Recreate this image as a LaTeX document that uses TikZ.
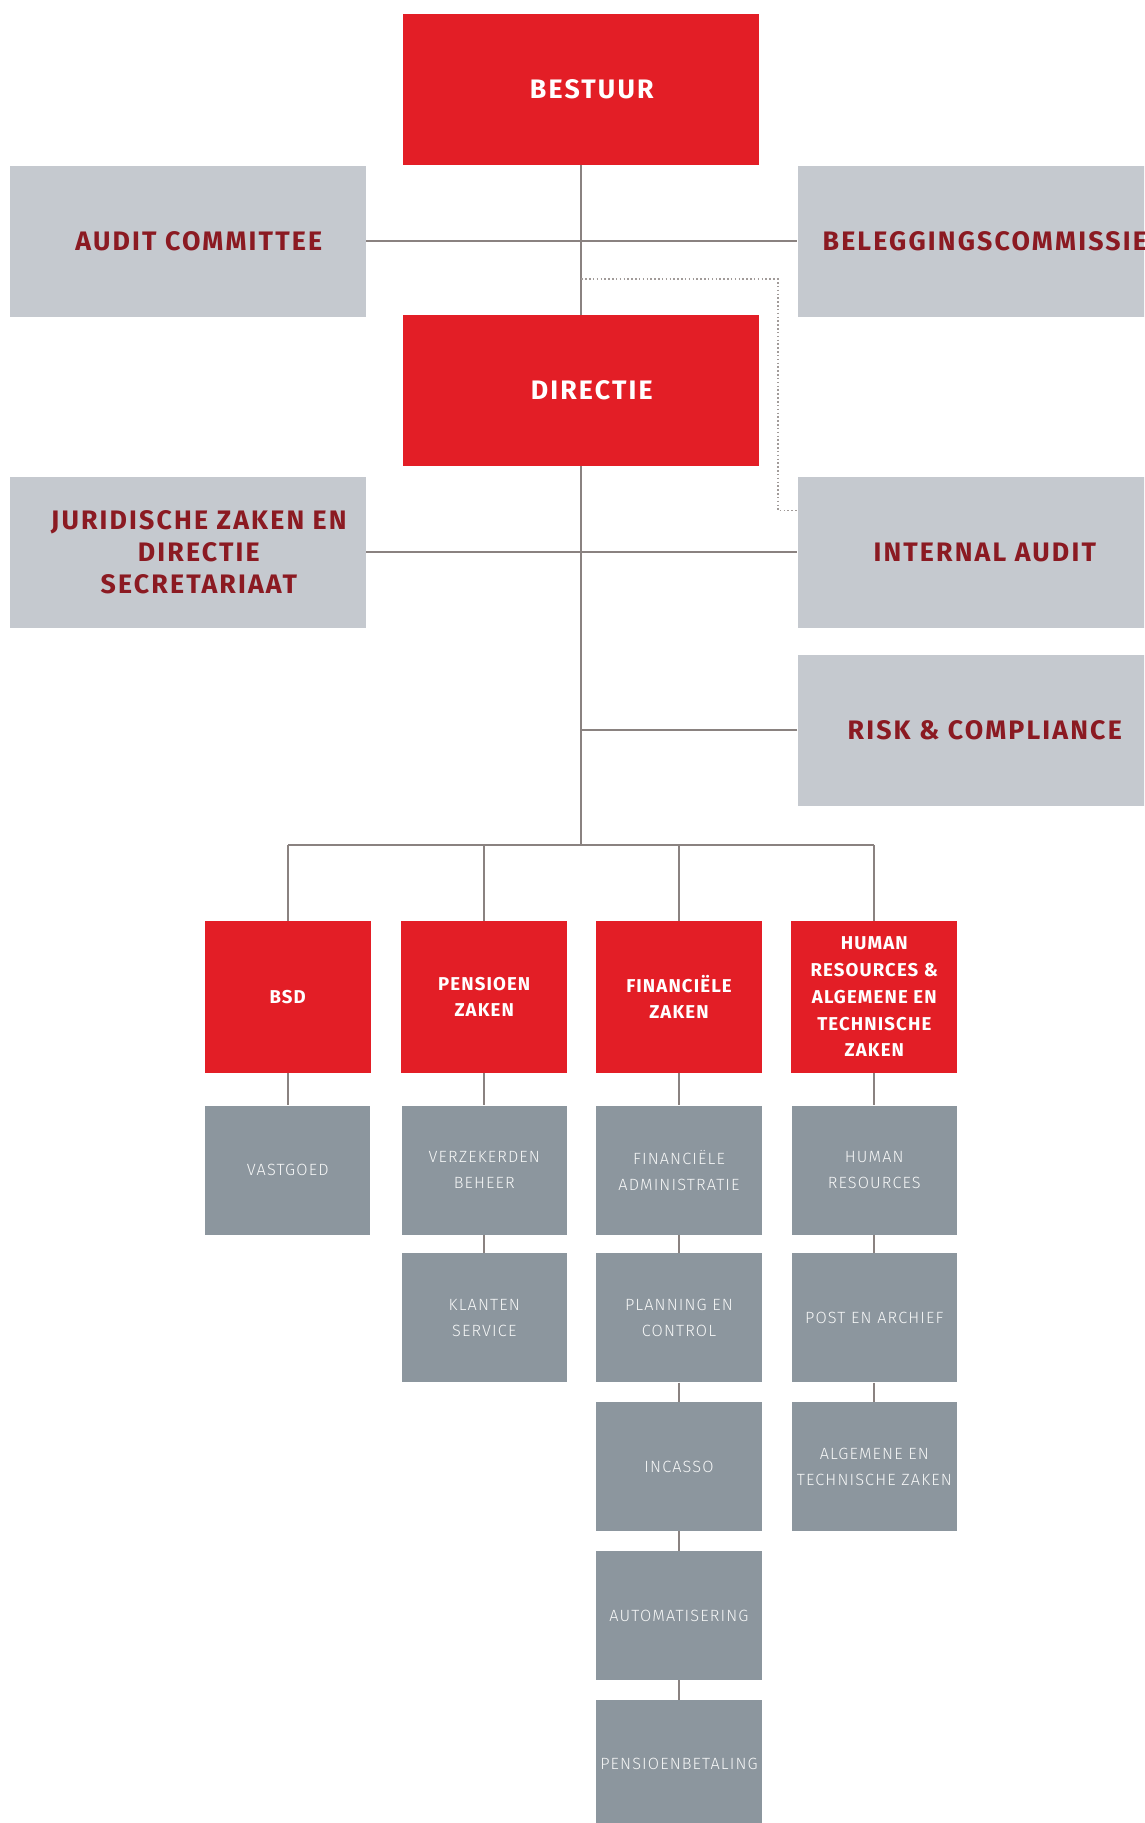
\documentclass[tikz,border=0pt]{standalone}
\usepackage{fontspec}
\setmainfont{Fira Sans}
\newfontfamily\headfont{Fira Sans}[LetterSpace=8]
\newfontfamily\deptfont{Fira Sans}[LetterSpace=6]
\newfontfamily\unitfont{Fira Sans Light}[LetterSpace=7]
\usepackage{tikz}
\usetikzlibrary{positioning}
\definecolor{boardred}{HTML}{E31E26}
\definecolor{palegrey}{HTML}{C5C9CF}
\definecolor{unitgrey}{HTML}{8C969E}
\definecolor{wine}{HTML}{8B1A22}
\definecolor{linegrey}{HTML}{8A8280}

\begin{document}
\begin{tikzpicture}[x=1pt,y=-1pt]
    \tikzstyle{link}=[draw=linegrey,line width=1.8pt]
    \tikzstyle{dotlink}=[draw=linegrey!80,line width=1.3pt,dotted]
    \tikzstyle{board}=[fill=boardred,text=white,inner sep=0pt,minimum width=306pt,minimum height=130pt,align=center,font=\headfont\bfseries\fontsize{23}{27.5}\selectfont]
    \tikzstyle{council}=[fill=palegrey,text=wine,inner sep=0pt,minimum height=130pt,align=center,font=\headfont\bfseries\fontsize{23}{27.5}\selectfont]
    \tikzstyle{dept}=[fill=boardred,text=white,inner sep=0pt,minimum width=143pt,minimum height=131pt,align=center,font=\deptfont\bfseries\fontsize{16}{23}\selectfont]
    \tikzstyle{unit}=[fill=unitgrey,text=white!92!unitgrey,inner sep=0pt,minimum width=142pt,minimum height=111pt,align=center,font=\unitfont\fontsize{14}{22.5}\selectfont]
    \useasboundingbox (0,0) rectangle (984,1568);
    \clip (0,0) rectangle (984,1568);
    \node[board](bestuur) at (500,77){\hspace*{18pt}BESTUUR};
    \node[council,minimum width=306pt](audit) at (162,207.5){\hspace*{18pt}AUDIT COMMITTEE};
    \node[council,minimum width=322pt](beleg) at (847,207.5){BELEGGINGSCOMMISSIE};
    \node[board](directie) at (500,336){\hspace*{18pt}DIRECTIE};
    \node[council,minimum width=306pt](juridisch) at (162,475){\hspace*{18pt}JURIDISCHE ZAKEN EN\\\hspace*{18pt}DIRECTIE\\\hspace*{18pt}SECRETARIAAT};
    \node[council,minimum width=322pt](internal) at (847,475){INTERNAL AUDIT};
    \node[council,minimum width=322pt](risk) at (847,628){RISK \& COMPLIANCE};
    \node[dept](bsd) at (247.5,857.5){BSD};
    \node[dept](pensioen) at (416.5,857.5){PENSIOEN\\ZAKEN};
    \node[dept](financieel) at (584,857.5){FINANCIËLE\\ZAKEN};
    \node[dept](hraz) at (752,857.5){HUMAN\\RESOURCES \&\\ALGEMENE EN\\TECHNISCHE\\ZAKEN};
    \node[unit](vastgoed) at (247.5,1006.5){VASTGOED};
    \node[unit](verzekerden) at (416.5,1006.5){VERZEKERDEN\\BEHEER};
    \node[unit](klanten) at (416.5,1133.5){KLANTEN\\SERVICE};
    \node[unit](finadmin) at (584,1006.5){FINANCIËLE\\ADMINISTRATIE};
    \node[unit](planning) at (584,1133.5){PLANNING EN\\CONTROL};
    \node[unit](incasso) at (584,1261.5){INCASSO};
    \node[unit](automatisering) at (584,1389.5){AUTOMATISERING};
    \node[unit](betaling) at (584,1517.5){PENSIOENBETALING};
    \node[unit](hr) at (752,1006.5){HUMAN\\RESOURCES};
    \node[unit](archief) at (752,1133.5){POST EN ARCHIEF};
    \node[unit](algemeen) at (752,1261.5){ALGEMENE EN\\TECHNISCHE ZAKEN};
    \coordinate (bus) at (500,727);
    \coordinate (dotstart) at (500,240);
    \coordinate (dotturn) at (669,439);
    \draw[link] (bestuur) -- (directie);
    \draw[link] (audit) -- (beleg);
    \draw[link] (juridisch) -- (internal);
    \draw[link] (directie) -- (bus);
    \draw[link] (risk.west) -- (risk.west -| bus);
    \draw[link] (bsd.north |- bus) -- (hraz.north |- bus);
    \foreach \d in {bsd,pensioen,financieel,hraz}
      \draw[link] (\d.north) -- (\d.north |- bus);
    \draw[dotlink] (dotstart) -| (dotturn) -- (dotturn -| internal.west);
    \draw[link] (bsd) -- (vastgoed);
    \draw[link] (pensioen) -- (verzekerden);
    \draw[link] (verzekerden) -- (klanten);
    \draw[link] (financieel) -- (finadmin);
    \draw[link] (finadmin) -- (planning);
    \draw[link] (planning) -- (incasso);
    \draw[link] (incasso) -- (automatisering);
    \draw[link] (automatisering) -- (betaling);
    \draw[link] (hraz) -- (hr);
    \draw[link] (hr) -- (archief);
    \draw[link] (archief) -- (algemeen);
\end{tikzpicture}
\end{document}
